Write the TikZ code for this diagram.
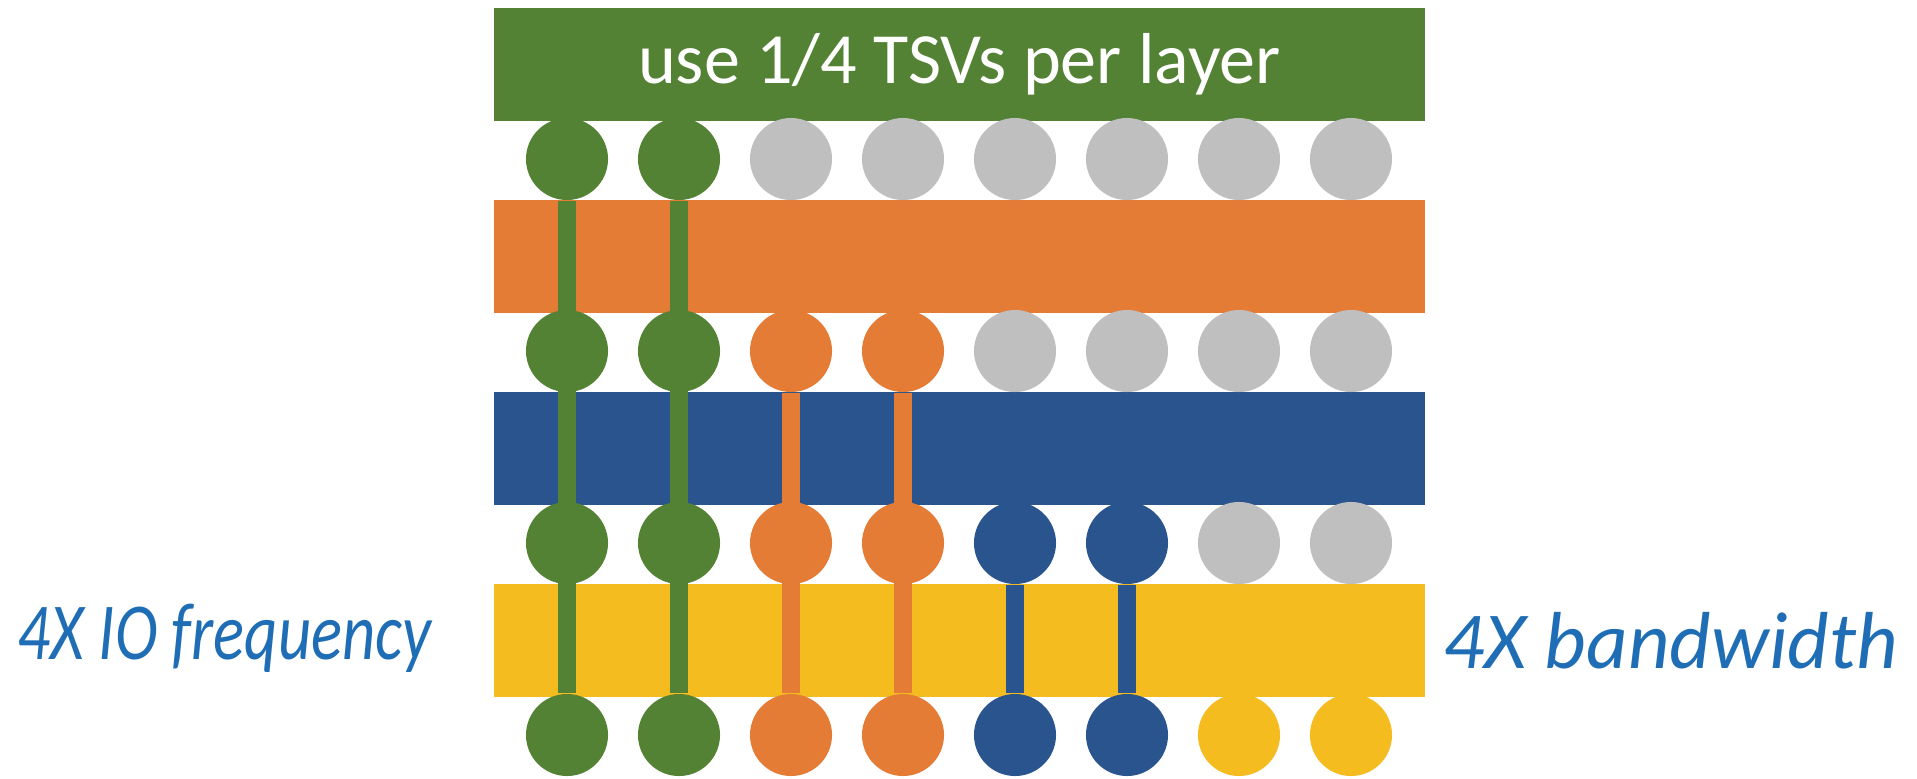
\documentclass[tikz,border=0pt]{standalone}
\usepackage{graphicx}
\usepackage{fontspec}
\setmainfont{Carlito}
\definecolor{tsvgreen}{HTML}{548235}
\definecolor{tsvorange}{HTML}{E57C36}
\definecolor{tsvblue}{HTML}{2A548E}
\definecolor{tsvyellow}{HTML}{F5BC1F}
\definecolor{tsvgrey}{HTML}{BFBFBF}
\definecolor{noteblue}{HTML}{1F6EB5}
\begin{document}
\begin{tikzpicture}[x=0.01cm,y=-0.01cm]
                \tikzstyle{layer}=[rectangle, inner sep=0, minimum width=9.31cm, minimum height=1.13cm]
                \tikzstyle{tsv}=[circle, inner sep=0, minimum size=0.82cm]
                \tikzstyle{via}=[line width=0.187cm]
                \tikzstyle{note}=[text=noteblue, inner sep=0, font=\fontsize{23}{27}\selectfont\itshape]
                \useasboundingbox (0,0) rectangle (1917,778);

                % the four layers
                \node (l1) [layer, fill=tsvgreen, text=white, font=\fontsize{20.5}{24}\selectfont] at (959.5,64.5) {use 1/4 TSVs per layer};
                \node (l2) [layer, fill=tsvorange] at (959.5,256.5) {};
                \node (l3) [layer, fill=tsvblue] at (959.5,448.5) {};
                \node (l4) [layer, fill=tsvyellow] at (959.5,640.5) {};

                % TSV rows under each layer
                \foreach \c/\col in {1/tsvgreen,2/tsvgreen,3/tsvgrey,4/tsvgrey,5/tsvgrey,6/tsvgrey,7/tsvgrey,8/tsvgrey}
                    \node (t1-\c) [tsv, fill=\col] at (455+112*\c,159) {};
                \foreach \c/\col in {1/tsvgreen,2/tsvgreen,3/tsvorange,4/tsvorange,5/tsvgrey,6/tsvgrey,7/tsvgrey,8/tsvgrey}
                    \node (t2-\c) [tsv, fill=\col] at (455+112*\c,351) {};
                \foreach \c/\col in {1/tsvgreen,2/tsvgreen,3/tsvorange,4/tsvorange,5/tsvblue,6/tsvblue,7/tsvgrey,8/tsvgrey}
                    \node (t3-\c) [tsv, fill=\col] at (455+112*\c,543) {};
                \foreach \c/\col in {1/tsvgreen,2/tsvgreen,3/tsvorange,4/tsvorange,5/tsvblue,6/tsvblue,7/tsvyellow,8/tsvyellow}
                    \node (t4-\c) [tsv, fill=\col] at (455+112*\c,735) {};

                \path [via] (t1-1) edge [draw=tsvgreen] (t4-1)
                            (t1-2) edge [draw=tsvgreen] (t4-2)
                            (t2-3) edge [draw=tsvorange] (t4-3)
                            (t2-4) edge [draw=tsvorange] (t4-4)
                            (t3-5) edge [draw=tsvblue] (t4-5)
                            (t3-6) edge [draw=tsvblue] (t4-6);

                \node (freq) [note, anchor=base west] at (17,659) {\scalebox{0.8}[1]{4X IO frequency}};
                \node (bw) [note, anchor=base west] at (1443,668) {4X bandwidth};
\end{tikzpicture}
\end{document}
